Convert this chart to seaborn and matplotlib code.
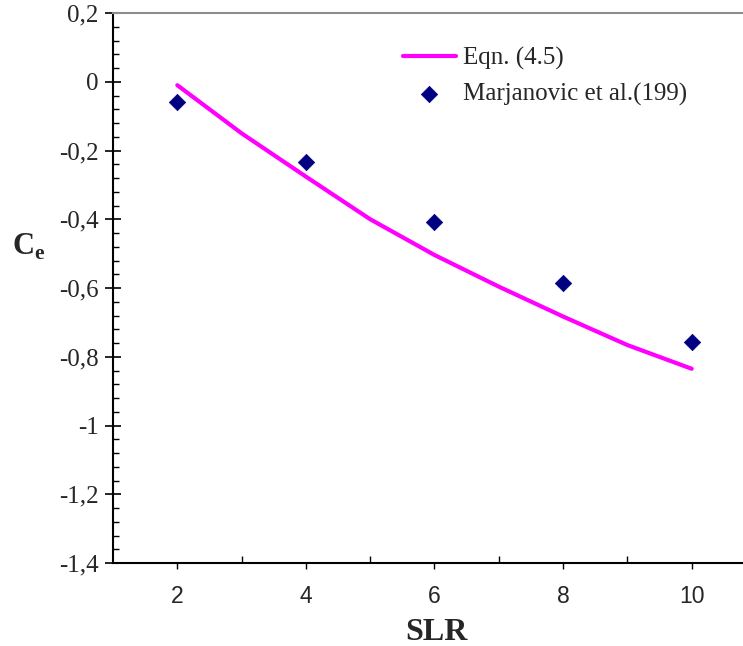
import matplotlib
matplotlib.use("Agg")
import matplotlib.pyplot as plt
import seaborn as sns
import numpy as np
from matplotlib.ticker import FixedLocator, MultipleLocator, FuncFormatter

# Data
slr_line = [2, 3, 4, 5, 6, 7, 8, 9, 10]
ce_line = [-0.01, -0.15, -0.276, -0.40, -0.504, -0.596, -0.683, -0.766, -0.835]
slr_pts = [2, 4, 6, 8, 10]
ce_pts = [-0.059, -0.232, -0.408, -0.584, -0.757]
x_ticks = [2, 4, 6, 8, 10]
y_ticks = [0.2, 0, -0.2, -0.4, -0.6, -0.8, -1, -1.2, -1.4]

sns.set_style("ticks")
plt.rcParams["mathtext.fontset"] = "custom"
plt.rcParams["mathtext.rm"] = "Liberation Serif"
plt.rcParams["mathtext.bf"] = "Liberation Serif:bold"

W, H = 743, 646
fig = plt.figure(figsize=(W / 100, H / 100), dpi=100)
fig.patch.set_facecolor("white")
ax = fig.add_axes([113 / W, 1 - 563 / H, (756 - 113) / W, 550 / H])
ax.set_facecolor("white")

sns.lineplot(x=slr_line, y=ce_line, ax=ax, color="#FF00FF", linewidth=3,
             label="Eqn. (4.5)")
sns.scatterplot(x=slr_pts, y=ce_pts, ax=ax, marker="D", s=70, color="#000080",
                edgecolor="#000080", linewidth=0.5, label="Marjanovic et al.(199)")

ax.set_xlim(1, 11)
ax.set_ylim(-1.4, 0.2)

ax.xaxis.set_major_locator(FixedLocator(x_ticks))
ax.xaxis.set_minor_locator(FixedLocator([3, 5, 7, 9]))
ax.yaxis.set_major_locator(FixedLocator(y_ticks))
ax.yaxis.set_minor_locator(MultipleLocator(0.04))

def yfmt(v, pos):
    if abs(v) < 1e-9:
        return "0"
    s = ("%.1f" % v).rstrip("0").rstrip(".")
    return s.replace(".", ",")

ax.yaxis.set_major_formatter(FuncFormatter(yfmt))
ax.xaxis.set_major_formatter(FuncFormatter(lambda v, p: "%d" % v))

ax.tick_params(axis="y", which="major", direction="inout", length=11, width=1.2,
               color="black", pad=5, labelsize=18)
ax.tick_params(axis="y", which="minor", direction="in", length=4.5, width=1.0,
               color="black")
ax.tick_params(axis="x", which="major", direction="out", length=4.5, width=1.0,
               color="black", pad=11, labelsize=16.5)
ax.tick_params(axis="x", which="minor", direction="in", length=5, width=1.0,
               color="black")
for lab in ax.get_yticklabels():
    lab.set_fontfamily("Liberation Serif")
for lab in ax.get_xticklabels():
    lab.set_fontfamily("Liberation Sans")

for side in ["left", "bottom"]:
    ax.spines[side].set_color("black")
    ax.spines[side].set_linewidth(1.5)
ax.spines["top"].set_color("#8c8c8c")
ax.spines["top"].set_linewidth(1.5)
ax.spines["right"].set_color("#8c8c8c")
ax.spines["top"].set_visible(True)
ax.spines["right"].set_visible(True)

ax.set_xlabel("SLR", fontsize=23, fontweight="bold", fontfamily="Liberation Serif",
              va="center")
ax.xaxis.set_label_coords((436 - 113) / 643, (563 - 632) / 550)
ax.set_ylabel(r"$\mathbf{C}_\mathbf{e}$", fontsize=22, rotation=0, va="center", ha="center")
ax.yaxis.set_label_coords((29 - 113) / 643, (563 - 247) / 550)

leg = ax.legend(loc="upper left", bbox_to_anchor=(403 / W, 1 - 47 / H),
                bbox_transform=fig.transFigure, frameon=False, borderpad=0,
                borderaxespad=0, handlelength=2.1, handletextpad=0.3,
                labelspacing=0.5, prop={"family": "Liberation Serif", "size": 18})

fig.savefig("out.png", dpi=100, facecolor="white")
